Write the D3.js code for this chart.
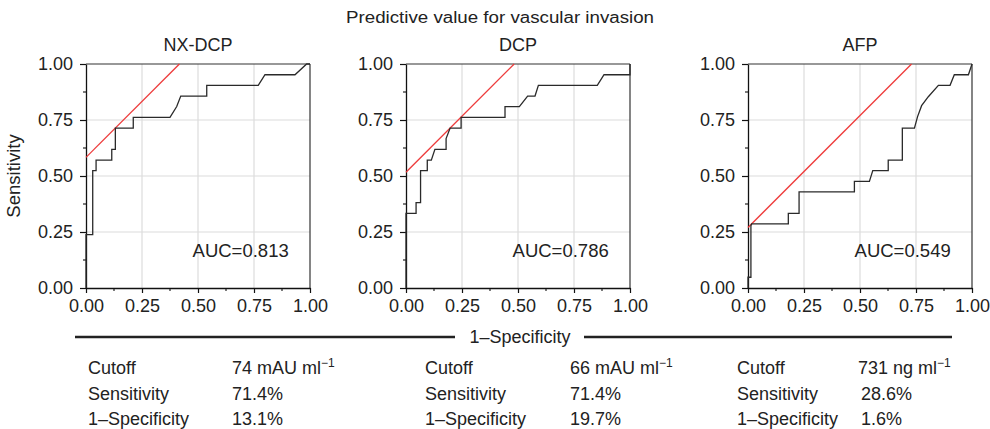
<!DOCTYPE html>
<html>
<head>
<meta charset="utf-8">
<script src="https://cdn.jsdelivr.net/npm/d3@7"></script>
<style>
  html, body { margin: 0; padding: 0; background: #fff; }
  svg { display: block; font-family: "Liberation Sans", Arial, Helvetica, sans-serif; }
</style>
</head>
<body>
<svg id="chart" width="990" height="429"></svg>
<script>
// ---------- data ----------
const panelNames = ["NX-DCP", "DCP", "AFP"];
const aucLabels = ["AUC=0.813", "AUC=0.786", "AUC=0.549"];
const tickValues = [0, 0.25, 0.5, 0.75, 1];
const tickLabels = ["0.00", "0.25", "0.50", "0.75", "1.00"];

// ROC curves (1-specificity, sensitivity)
const nxdcpFpr  = [0, 0, 0.030, 0.030, 0.045, 0.045, 0.115, 0.115, 0.131, 0.131, 0.211, 0.211, 0.375, 0.405, 0.423, 0.539, 0.539, 0.769, 0.799, 0.933, 0.985, 1];
const nxdcpSens = [0, 0.238, 0.238, 0.524, 0.524, 0.571, 0.571, 0.619, 0.619, 0.714, 0.714, 0.762, 0.762, 0.810, 0.857, 0.857, 0.905, 0.905, 0.952, 0.952, 1, 1];

const dcpFpr  = [0, 0, 0.045, 0.045, 0.065, 0.065, 0.095, 0.095, 0.113, 0.129, 0.179, 0.179, 0.197, 0.246, 0.246, 0.442, 0.442, 0.506, 0.543, 0.576, 0.591, 0.854, 0.884, 1, 1];
const dcpSens = [0, 0.333, 0.333, 0.381, 0.381, 0.524, 0.524, 0.571, 0.571, 0.619, 0.619, 0.667, 0.714, 0.714, 0.762, 0.762, 0.810, 0.810, 0.857, 0.857, 0.905, 0.905, 0.952, 0.952, 1];

const afpFpr  = [0, 0, 0.013, 0.013, 0.016, 0.180, 0.180, 0.228, 0.228, 0.475, 0.475, 0.542, 0.557, 0.626, 0.626, 0.689, 0.689, 0.743, 0.757, 0.775, 0.805, 0.850, 0.902, 0.921, 0.984, 1];
const afpSens = [0, 0.048, 0.048, 0.278, 0.286, 0.286, 0.333, 0.333, 0.429, 0.429, 0.476, 0.476, 0.524, 0.524, 0.571, 0.571, 0.714, 0.714, 0.765, 0.814, 0.854, 0.905, 0.905, 0.952, 0.952, 1];

const curveFpr = [nxdcpFpr, dcpFpr, afpFpr];
const curveSens = [nxdcpSens, dcpSens, afpSens];

// optimal cutoff points (1-specificity, sensitivity)
const cutFpr = [0.131, 0.197, 0.016];
const cutSens = [0.714, 0.714, 0.286];

// table
const rowLabels = ["Cutoff", "Sensitivity", "1\u2013Specificity"];
const cutoffValues = ["74 mAU ml", "66 mAU ml", "731 ng ml"];
const sensValues = ["71.4%", "71.4%", "28.6%"];
const fprValues = ["13.1%", "19.7%", "1.6%"];

// ---------- layout ----------
const svg = d3.select("#chart");
const FONT = 18;
const panelX = [86, 406, 748];
const plotTop = 64, size = 224;

svg.append("text").attr("x", 500).attr("y", 23).attr("text-anchor", "middle")
  .attr("font-size", 16).attr("fill", "#222")
  .attr("textLength", 308).attr("lengthAdjust", "spacingAndGlyphs")
  .text("Predictive value for vascular invasion");

svg.append("text").attr("transform", `translate(20,${plotTop + size / 2}) rotate(-90)`)
  .attr("text-anchor", "middle").attr("font-size", 18.5).attr("fill", "#222").text("Sensitivity");

panelNames.forEach((name, i) => {
  const g = svg.append("g").attr("transform", `translate(${panelX[i]},${plotTop})`);
  const x = d3.scaleLinear().domain([0, 1]).range([0, size]);
  const y = d3.scaleLinear().domain([0, 1]).range([size, 0]);

  g.append("text").attr("x", size / 2).attr("y", -13).attr("text-anchor", "middle")
    .attr("font-size", FONT).attr("fill", "#222").text(name);

  const gridVals = [0.25, 0.5, 0.75];
  g.selectAll(".gx").data(gridVals).enter().append("line")
    .attr("x1", d => x(d)).attr("x2", d => x(d)).attr("y1", 0).attr("y2", size)
    .attr("stroke", "#dcdcdc").attr("stroke-width", 1.2);
  g.selectAll(".gy").data(gridVals).enter().append("line")
    .attr("y1", d => y(d)).attr("y2", d => y(d)).attr("x1", 0).attr("x2", size)
    .attr("stroke", "#dcdcdc").attr("stroke-width", 1.2);

  g.append("line").attr("x1", 0).attr("x2", size).attr("y1", 0).attr("y2", 0).attr("stroke", "#333").attr("stroke-width", 1.2);
  g.append("line").attr("x1", size).attr("x2", size).attr("y1", 0).attr("y2", size).attr("stroke", "#333").attr("stroke-width", 1.2);

  const minor = d3.range(0.125, 1, 0.25);
  const xAxis = d3.axisBottom(x).tickValues(tickValues).tickFormat((d, k) => tickLabels[k]).tickSize(5).tickPadding(6).tickSizeOuter(0);
  const yAxis = d3.axisLeft(y).tickValues(tickValues).tickFormat((d, k) => tickLabels[k]).tickSize(6).tickPadding(7).tickSizeOuter(0);
  const gx = g.append("g").attr("transform", `translate(0,${size})`).call(xAxis);
  const gy = g.append("g").call(yAxis);
  [gx, gy].forEach(a => {
    a.attr("font-family", null);
    a.select(".domain").attr("stroke", "#111").attr("stroke-width", 1.3);
    a.selectAll(".tick line").attr("stroke", "#111").attr("stroke-width", 1.2);
    a.selectAll(".tick text").attr("font-size", FONT).attr("fill", "#222");
  });
  gx.selectAll(".mx").data(minor).enter().append("line")
    .attr("x1", d => x(d)).attr("x2", d => x(d)).attr("y1", 0).attr("y2", 3).attr("stroke", "#111").attr("stroke-width", 1.1);
  gy.selectAll(".my").data(minor).enter().append("line")
    .attr("y1", d => y(d)).attr("y2", d => y(d)).attr("x1", 0).attr("x2", -3).attr("stroke", "#111").attr("stroke-width", 1.1);

  const b = cutSens[i] - cutFpr[i];
  g.append("line").attr("x1", x(0)).attr("y1", y(b)).attr("x2", x(1 - b)).attr("y2", y(1))
    .attr("stroke", "#ee3b3b").attr("stroke-width", 1.3);

  const pts = curveFpr[i].map((f, k) => [f, curveSens[i][k]]);
  g.append("path").datum(pts)
    .attr("d", d3.line().x(d => x(d[0])).y(d => y(d[1])))
    .attr("fill", "none").attr("stroke", "#2a2a2a").attr("stroke-width", 1.3);

  g.append("text").attr("x", x(0.905)).attr("y", y(0.14)).attr("text-anchor", "end")
    .attr("font-size", 18.5).attr("fill", "#222").text(aucLabels[i]);
});

svg.append("line").attr("x1", 75).attr("x2", 455).attr("y1", 337).attr("y2", 337).attr("stroke", "#222").attr("stroke-width", 2.5);
svg.append("line").attr("x1", 584).attr("x2", 952).attr("y1", 337).attr("y2", 337).attr("stroke", "#222").attr("stroke-width", 2.5);
svg.append("text").attr("x", 520).attr("y", 343).attr("text-anchor", "middle").attr("font-size", FONT).attr("fill", "#222").text("1\u2013Specificity");

const colLabelX = [88, 425, 737];
const colValX = [232, 570, 858];
const rowY = [374, 400, 425];
const valueRows = [cutoffValues, sensValues, fprValues];
colLabelX.forEach((cx, i) => {
  rowLabels.forEach((lab, r) => {
    svg.append("text").attr("x", cx).attr("y", rowY[r]).attr("font-size", FONT).attr("fill", "#222").text(lab);
    const t = svg.append("text").attr("x", colValX[i] + (i === 2 && r > 0 ? 3 : 0)).attr("y", rowY[r]).attr("font-size", FONT).attr("fill", "#222");
    t.append("tspan").text(valueRows[r][i]);
    if (r === 0) t.append("tspan").attr("dy", -7).attr("font-size", 12).text("\u22121");
  });
});
</script>
</body>
</html>
